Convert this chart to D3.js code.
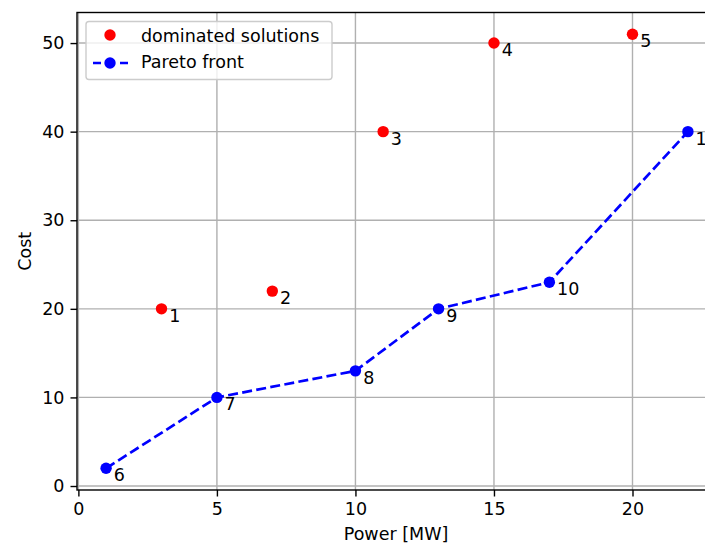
<!DOCTYPE html>
<html><head><meta charset="utf-8">
<script src="https://cdn.jsdelivr.net/npm/d3@7"></script>
<style>body{margin:0;background:#fff;}svg{display:block;font-family:"DejaVu Sans",sans-serif;}</style>
</head><body>
<svg id="c" width="705" height="545"></svg>
<script>
const domX = [3, 7, 11, 15, 20];
const domY = [20, 22, 40, 50, 51];
const domLabels = ["1", "2", "3", "4", "5"];
const parX = [1, 5, 10, 13, 17, 22];
const parY = [2, 10, 13, 20, 23, 40];
const parLabels = ["6", "7", "8", "9", "10", "11"];
const xTicks = [0, 5, 10, 15, 20];
const yTicks = [0, 10, 20, 30, 40, 50];

const svg = d3.select("#c");
const L = 77, R = 717, T = 12.5, B = 490;
const x = d3.scaleLinear().domain([-0.05, 23.05]).range([L, R]);
const y = d3.scaleLinear().domain([-0.45, 53.45]).range([B, T]);
const fs = 17.5;
const lw = 1.4;

svg.append("defs").append("clipPath").attr("id","clip")
  .append("rect").attr("x",L).attr("y",T).attr("width",R-L).attr("height",B-T);

// grid
const g = svg.append("g");
xTicks.forEach(t => g.append("line").attr("x1",x(t)).attr("x2",x(t)).attr("y1",T).attr("y2",B)
  .attr("stroke","#b0b0b0").attr("stroke-width",lw));
yTicks.forEach(t => g.append("line").attr("x1",L).attr("x2",R).attr("y1",y(t)).attr("y2",y(t))
  .attr("stroke","#b0b0b0").attr("stroke-width",lw));

// axes
const xAxis = d3.axisBottom(x).tickValues(xTicks).tickSize(6.5).tickPadding(6).tickFormat(d3.format("d"));
const yAxis = d3.axisLeft(y).tickValues(yTicks).tickSize(6.5).tickPadding(6).tickFormat(d3.format("d"));
const gx = svg.append("g").attr("transform",`translate(0,${B})`).call(xAxis);
const gy = svg.append("g").attr("transform",`translate(${L},0)`).call(yAxis);
[gx, gy].forEach(a => {
  a.select(".domain").remove();
  a.selectAll("line").attr("stroke","#000").attr("stroke-width",lw);
  a.selectAll("text").attr("font-size",fs).attr("font-family","DejaVu Sans").attr("fill","#000");
});

// data
const plot = svg.append("g").attr("clip-path","url(#clip)");
const pts = parX.map((v,i)=>[v,parY[i]]);
plot.append("path").attr("d", d3.line().x(d=>x(d[0])).y(d=>y(d[1]))(pts))
  .attr("fill","none").attr("stroke","#0000ff").attr("stroke-width",2.7).attr("stroke-dasharray","10,4.3");
parX.forEach((v,i)=>plot.append("circle").attr("cx",x(v)).attr("cy",y(parY[i])).attr("r",5.7).attr("fill","#0000ff"));
domX.forEach((v,i)=>plot.append("circle").attr("cx",x(v)).attr("cy",y(domY[i])).attr("r",5.7).attr("fill","#ff0000"));

// point labels
domX.forEach((v,i)=>svg.append("text").attr("x",x(v)+7.7).attr("y",y(domY[i])+13).attr("font-size",fs).attr("fill","#000").text(domLabels[i]));
parX.forEach((v,i)=>svg.append("text").attr("x",x(v)+7.7).attr("y",y(parY[i])+13).attr("font-size",fs).attr("fill","#000").text(parLabels[i]));

// spines
svg.append("rect").attr("x",L).attr("y",T).attr("width",R-L).attr("height",B-T)
  .attr("fill","none").attr("stroke","#000").attr("stroke-width",lw);

// axis labels
svg.append("text").attr("x",396).attr("y",540).attr("text-anchor","middle").attr("font-size",fs).text("Power [MW]");
svg.append("text").attr("transform",`translate(31,${(T+B)/2}) rotate(-90)`).attr("text-anchor","middle").attr("font-size",fs).text("Cost");

// legend
const lg = svg.append("g");
lg.append("rect").attr("x",86).attr("y",21.5).attr("width",246).attr("height",58).attr("rx",3)
  .attr("fill","#fff").attr("fill-opacity",0.8).attr("stroke","#cccccc").attr("stroke-width",lw);
lg.append("circle").attr("cx",110).attr("cy",35).attr("r",5.7).attr("fill","#ff0000");
lg.append("text").attr("x",141).attr("y",41.5).attr("font-size",fs).text("dominated solutions");
lg.append("line").attr("x1",93).attr("x2",128).attr("y1",63).attr("y2",63)
  .attr("stroke","#0000ff").attr("stroke-width",2.7).attr("stroke-dasharray","8,5.5");
lg.append("circle").attr("cx",110).attr("cy",63).attr("r",5.7).attr("fill","#0000ff");
lg.append("text").attr("x",141).attr("y",68.3).attr("font-size",fs).text("Pareto front");
</script>
</body></html>
